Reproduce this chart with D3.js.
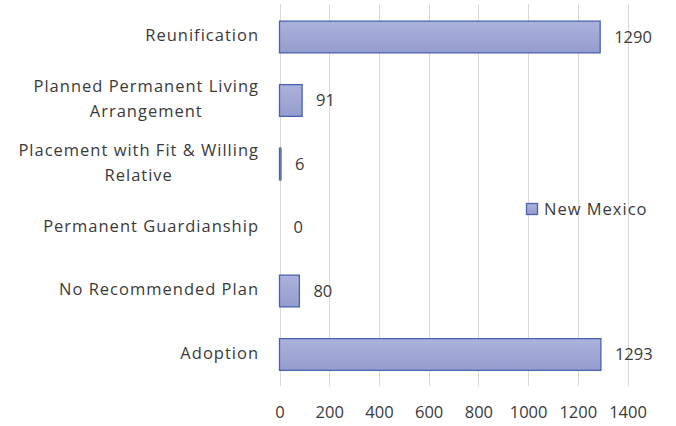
<!DOCTYPE html>
<html>
<head>
<meta charset="utf-8">
<script src="https://cdn.jsdelivr.net/npm/d3@7"></script>
<style>
  html, body { margin: 0; padding: 0; background: #fff; }
  svg { display: block; }
  text { font-family: "Open Sans", "Lato", sans-serif; fill: #3a3a3a; }
</style>
</head>
<body>
<svg id="chart" width="676" height="426"></svg>
<script>
const categories = [
  ["Reunification"],
  ["Planned Permanent Living", "Arrangement"],
  ["Placement with Fit & Willing", "Relative"],
  ["Permanent Guardianship"],
  ["No Recommended Plan"],
  ["Adoption"]
];
const seriesName = "New Mexico";
const values = [1290, 91, 6, 0, 80, 1293];
const xTicks = [0, 200, 400, 600, 800, 1000, 1200, 1400];

const svg = d3.select("#chart");
const fontSize = 16.5;
const ff = "'Open Sans', Lato, sans-serif";

const x = d3.scaleLinear().domain([0, 1400]).range([279.5, 627.5]);
const keys = categories.map(c => c.join(" "));
const y = d3.scaleBand().domain(keys).range([5.25, 386.25]).paddingInner(0.5).paddingOuter(0.25);

const defs = svg.append("defs");
const grad = defs.append("linearGradient").attr("id", "barGrad")
  .attr("x1", 0).attr("y1", 0).attr("x2", 0).attr("y2", 1);
grad.append("stop").attr("offset", "0%").attr("stop-color", "#abb2dc");
grad.append("stop").attr("offset", "100%").attr("stop-color", "#939dce");

// gridlines
svg.append("g")
  .selectAll("line").data(xTicks).join("line")
  .attr("x1", d => Math.round(x(d)) + 0.5).attr("x2", d => Math.round(x(d)) + 0.5)
  .attr("y1", 4).attr("y2", 386)
  .attr("stroke", "#d9d9d9").attr("stroke-width", 1);

// x axis tick labels
const xAxis = d3.axisBottom(x).tickValues(xTicks).tickSize(0).tickPadding(0).tickFormat(d3.format("d"));
const gx = svg.append("g").attr("transform", "translate(0,406)").call(xAxis);
gx.select(".domain").remove();
gx.selectAll("text").attr("font-size", fontSize).attr("dy", "0.71em")
  .style("font-family", ff).attr("fill", "#3a3a3a");

// bars
svg.append("g").selectAll("rect").data(values).join("rect")
  .attr("x", x(0))
  .attr("y", (d, i) => y(keys[i]))
  .attr("width", d => x(d) - x(0))
  .attr("height", y.bandwidth())
  .attr("fill", "url(#barGrad)")
  .attr("stroke", d => d > 0 ? "#4a62b0" : "none")
  .attr("stroke-width", 1.3);

// value labels
svg.append("g").selectAll("text").data(values).join("text")
  .attr("x", d => x(d) + 14)
  .attr("y", (d, i) => y(keys[i]) + y.bandwidth() / 2)
  .attr("dy", "0.35em")
  .attr("font-size", fontSize)
  .text(d => d);

// category labels
const catG = svg.append("g");
categories.forEach((lines, i) => {
  const cy = y(keys[i]) + y.bandwidth() / 2;
  const lh = 25;
  const t = catG.append("text")
    .attr("font-size", fontSize)
    .attr("letter-spacing", 1)
    .attr("text-anchor", "middle");
  const n = lines.length;
  lines.forEach((ln, j) => {
    t.append("tspan").attr("x", 0).text(ln)
      .attr("y", cy + (j - (n - 1) / 2) * lh - 1.5)
      .attr("dy", "0.35em");
  });
  const bbox = t.node().getBBox();
  const center = 259 - bbox.width / 2;
  t.selectAll("tspan").attr("x", center);
});

// legend
const lg = svg.append("g");
lg.append("rect").attr("x", 526.5).attr("y", 203.5).attr("width", 11).attr("height", 11)
  .attr("fill", "url(#barGrad)").attr("stroke", "#4a62b0").attr("stroke-width", 1.3);
lg.append("text").attr("x", 544).attr("y", 209).attr("dy", "0.35em")
  .attr("letter-spacing", 1)
  .attr("font-size", fontSize).text(seriesName);
</script>
</body>
</html>
